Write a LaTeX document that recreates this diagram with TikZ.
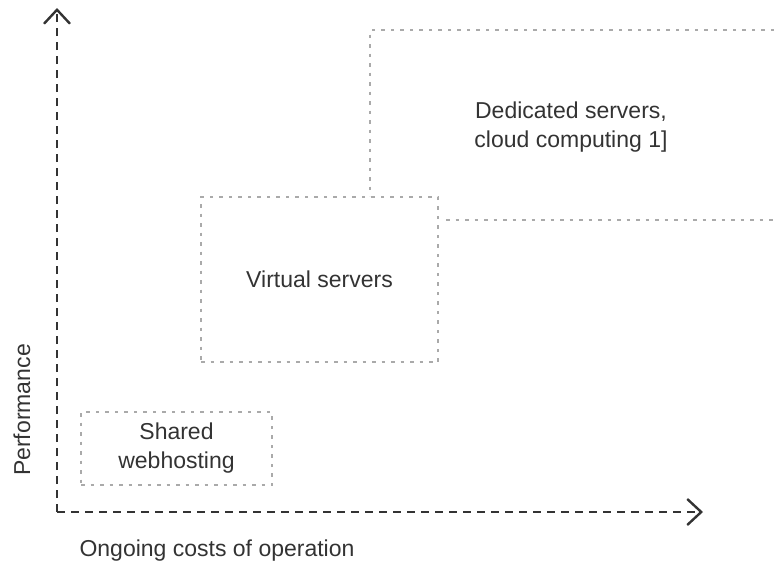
\documentclass[tikz,border=0pt]{standalone}
\usepackage{fontspec}
\setmainfont{Liberation Sans}
\usetikzlibrary{arrows.meta}
\definecolor{axisgray}{HTML}{333333}
\definecolor{boxgray}{HTML}{AAAAAA}
\tikzset{
  area/.style={draw=boxgray, line width=2pt, dash pattern=on 3.5pt off 6pt, align=center, inner sep=0pt},
  axis/.style={draw=axisgray, line width=2.4pt, dash pattern=on 8pt off 6pt, -{Straight Barb[length=14pt, width=26pt, line width=2.4pt]}},
  label/.style={text=axisgray, align=center}
}
\begin{document}
\begin{tikzpicture}[x=1pt, y=-1pt, font=\fontsize{23}{29}\selectfont]
  \useasboundingbox (0, 0) rectangle (774, 571);
  % Nodes
  \node (shared) [area, label, minimum width=191pt, minimum height=73pt] at (176.5, 448.5) {Shared\\webhosting};
  \node (virtual) [area, label, minimum width=237pt, minimum height=165pt] at (319.5, 279.5) {Virtual servers};
  \node (dedicated) [label] at (571, 127) {Dedicated servers,\\cloud computing 1]};
  % Dedicated area
  \coordinate (dtop) at (370, 30);
  \coordinate (dright) at (774, 30);
  \coordinate (dstep) at (446, 220);
  \coordinate (dstepend) at (774, 220);
  \draw[area] (dright) -- (dtop) -- (dtop |- virtual.north);
  \draw[area] (dstep) -- (dstepend);
  % Axes
  \coordinate (origin) at (57, 512);
  \coordinate (ytip) at (57, 8);
  \coordinate (xtip) at (703, 512);
  \draw[axis] (origin) -- (ytip);
  \draw[axis] (origin) -- (xtip);
  % Axis labels
  \node (perf) [label, rotate=90] at (22, 410) {Performance};
  \node (cost) [label] at (217, 551) {Ongoing costs of operation};
\end{tikzpicture}
\end{document}
